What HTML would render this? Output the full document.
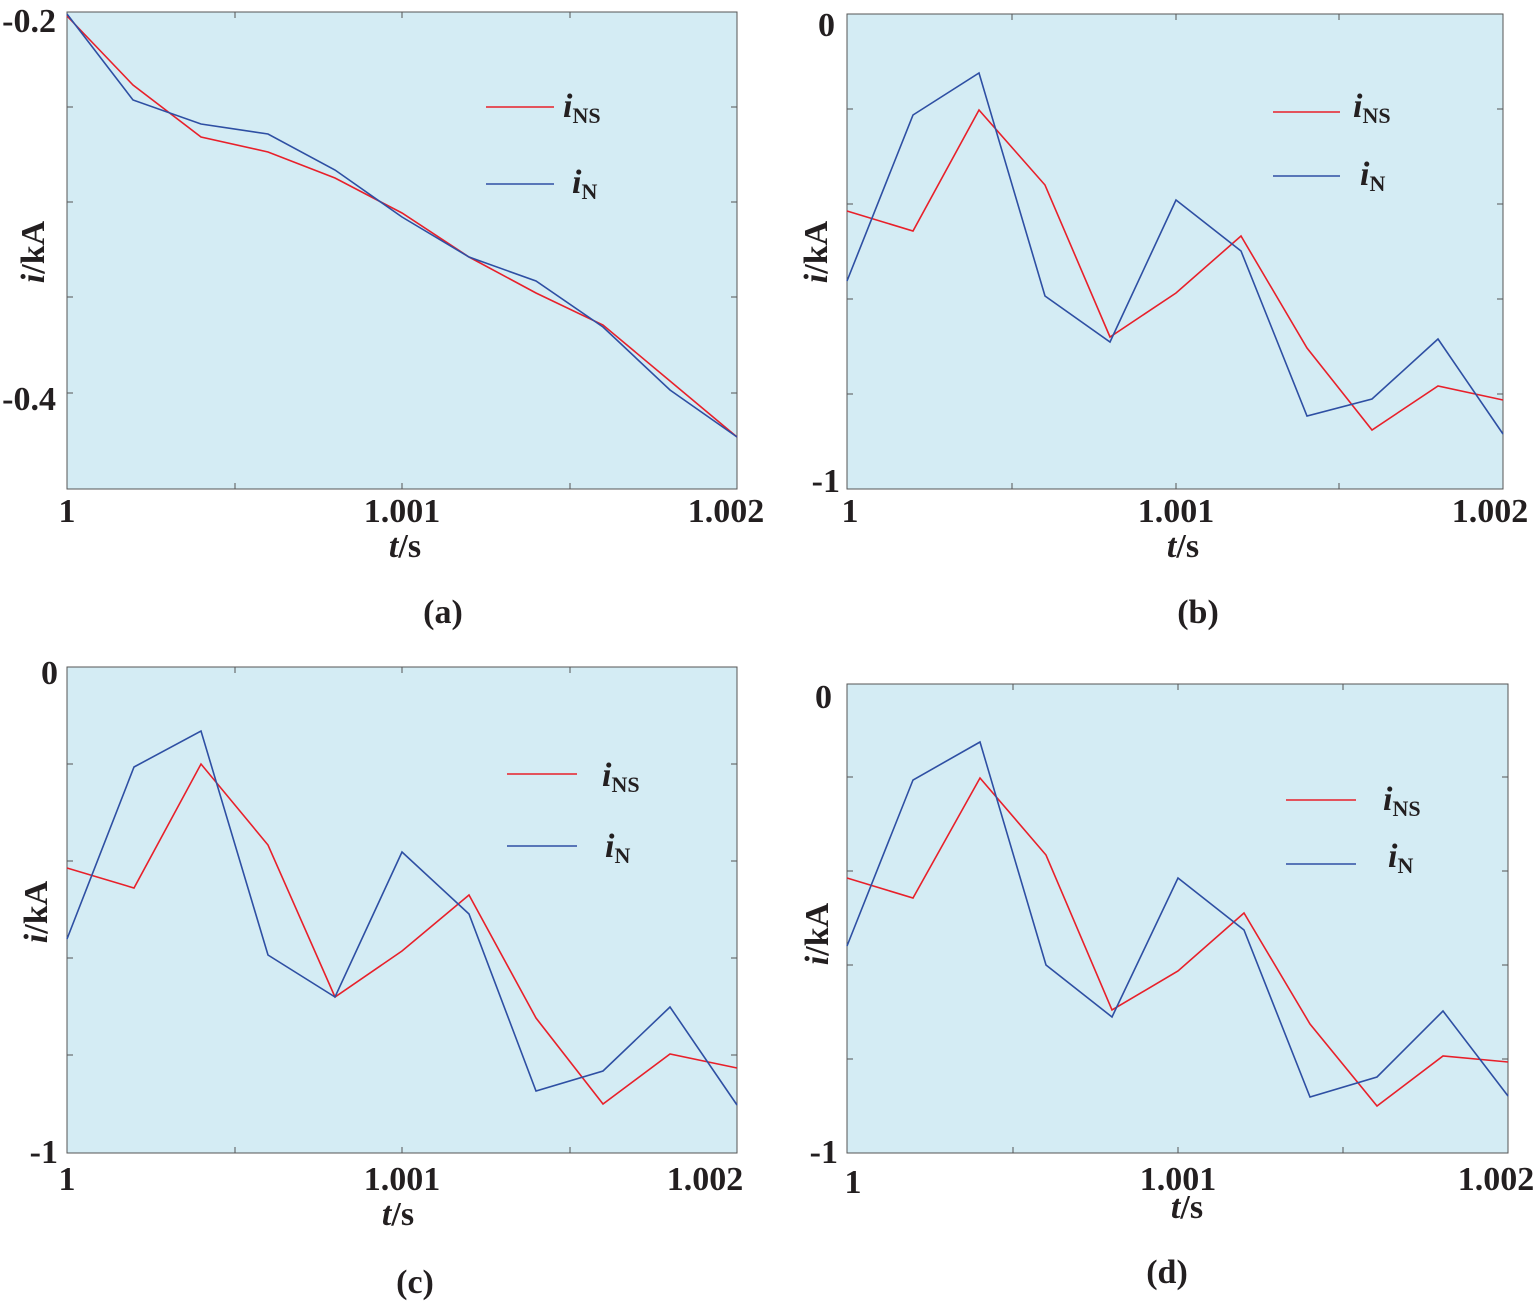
<!DOCTYPE html>
<html><head><meta charset="utf-8"><style>
html,body{margin:0;padding:0;background:#fff}
text{font-family:"Liberation Serif",serif;font-weight:bold;fill:#231f20}
</style></head><body>
<svg width="1536" height="1306" viewBox="0 0 1536 1306" xmlns="http://www.w3.org/2000/svg">
<g stroke-width="1.6" fill="none">
<rect x="67" y="12" width="670" height="477" fill="#d4ecf4" stroke="#555" stroke-width="1"/>
<g stroke="#555" stroke-width="1">
<path d="M67 107h6M67 202h6M67 297h6M67 393h6M737 107h-6M737 202h-6M737 297h-6M737 393h-6M235 489v-6M402 489v-6M570 489v-6M235 12v6M402 12v6M570 12v6"/>
</g>
<polyline stroke="#e8202a" points="67,16 133,85 201,137 268,152 335,178 402,213 469,257 536,293 603,325 670,381 737,437"/>
<polyline stroke="#2e4fa3" points="67,14 133,100 201,124 268,134 335,170 402,217 469,257 536,281 603,327 670,390 737,437"/>
<line x1="486" y1="107" x2="554" y2="107" stroke="#e8202a"/>
<line x1="486" y1="184" x2="554" y2="184" stroke="#2e4fa3"/>
<rect x="847" y="14" width="656" height="475" fill="#d4ecf4" stroke="#555" stroke-width="1"/>
<g stroke="#555" stroke-width="1">
<path d="M847 109h6M847 204h6M847 299h6M847 394h6M1503 109h-6M1503 204h-6M1503 299h-6M1503 394h-6M1012 489v-6M1176 489v-6M1339 489v-6M1012 14v6M1176 14v6M1339 14v6"/>
</g>
<polyline stroke="#e8202a" points="847,211 913,231 979,110 1045,185 1110,337 1176,293 1241,236 1307,348 1372,430 1438,386 1503,400"/>
<polyline stroke="#2e4fa3" points="847,281 913,115 979,73 1045,296 1110,342 1176,200 1241,251 1307,416 1372,399 1438,339 1503,434"/>
<line x1="1273" y1="112" x2="1340" y2="112" stroke="#e8202a"/>
<line x1="1273" y1="176" x2="1340" y2="176" stroke="#2e4fa3"/>
<rect x="67" y="667" width="670" height="486" fill="#d4ecf4" stroke="#555" stroke-width="1"/>
<g stroke="#555" stroke-width="1">
<path d="M67 764h6M67 861h6M67 958h6M67 1055h6M737 764h-6M737 861h-6M737 958h-6M737 1055h-6M235 1153v-6M402 1153v-6M570 1153v-6M235 667v6M402 667v6M570 667v6"/>
</g>
<polyline stroke="#e8202a" points="67,868 134,888 201,764 268,845 335,997 402,951 469,895 536,1018 603,1104 670,1054 737,1068"/>
<polyline stroke="#2e4fa3" points="67,939 134,767 201,731 268,955 335,997 402,852 469,914 536,1091 603,1071 670,1007 737,1105"/>
<line x1="507" y1="774" x2="577" y2="774" stroke="#e8202a"/>
<line x1="507" y1="846" x2="577" y2="846" stroke="#2e4fa3"/>
<rect x="847" y="684" width="661" height="469" fill="#d4ecf4" stroke="#555" stroke-width="1"/>
<g stroke="#555" stroke-width="1">
<path d="M847 777h6M847 871h6M847 965h6M847 1059h6M1508 777h-6M1508 871h-6M1508 965h-6M1508 1059h-6M1013 1153v-6M1178 1153v-6M1343 1153v-6M1013 684v6M1178 684v6M1343 684v6"/>
</g>
<polyline stroke="#e8202a" points="847,878 913,898 980,778 1046,855 1112,1010 1178,971 1244,913 1310,1024 1377,1106 1443,1056 1508,1062"/>
<polyline stroke="#2e4fa3" points="847,946 913,780 980,742 1046,965 1112,1017 1178,878 1244,930 1310,1097 1377,1077 1443,1011 1508,1096"/>
<line x1="1286" y1="800" x2="1356" y2="800" stroke="#e8202a"/>
<line x1="1286" y1="864" x2="1356" y2="864" stroke="#2e4fa3"/>
</g>

<g font-size="34">
<text x="56" y="32" text-anchor="end">-0.2</text>
<text x="56" y="410" text-anchor="end">-0.4</text>
<text x="67" y="522" text-anchor="middle">1</text>
<text x="402" y="522" text-anchor="middle">1.001</text>
<text x="726" y="522" text-anchor="middle">1.002</text>
<text x="405" y="557" text-anchor="middle"><tspan font-style="italic">t</tspan>/s</text>
<text x="443" y="623" text-anchor="middle">(a)</text>
<text transform="translate(44,252) rotate(-90)" text-anchor="middle"><tspan font-style="italic">i</tspan>/kA</text>
<text x="563" y="117" font-style="italic">i<tspan font-size="22" font-style="normal" dy="6">NS</tspan></text>
<text x="572" y="193" font-style="italic">i<tspan font-size="22" font-style="normal" dy="6">N</tspan></text>
<text x="835" y="36" text-anchor="end">0</text>
<text x="840" y="492" text-anchor="end">-1</text>
<text x="850" y="522" text-anchor="middle">1</text>
<text x="1176" y="522" text-anchor="middle">1.001</text>
<text x="1490" y="522" text-anchor="middle">1.002</text>
<text x="1183" y="557" text-anchor="middle"><tspan font-style="italic">t</tspan>/s</text>
<text x="1198" y="623" text-anchor="middle">(b)</text>
<text transform="translate(827,252) rotate(-90)" text-anchor="middle"><tspan font-style="italic">i</tspan>/kA</text>
<text x="1353" y="117" font-style="italic">i<tspan font-size="22" font-style="normal" dy="6">NS</tspan></text>
<text x="1360" y="185" font-style="italic">i<tspan font-size="22" font-style="normal" dy="6">N</tspan></text>
<text x="58" y="684" text-anchor="end">0</text>
<text x="58" y="1163" text-anchor="end">-1</text>
<text x="67" y="1190" text-anchor="middle">1</text>
<text x="402" y="1190" text-anchor="middle">1.001</text>
<text x="705" y="1190" text-anchor="middle">1.002</text>
<text x="398" y="1225" text-anchor="middle"><tspan font-style="italic">t</tspan>/s</text>
<text x="415" y="1293" text-anchor="middle">(c)</text>
<text transform="translate(47,912) rotate(-90)" text-anchor="middle"><tspan font-style="italic">i</tspan>/kA</text>
<text x="602" y="786" font-style="italic">i<tspan font-size="22" font-style="normal" dy="6">NS</tspan></text>
<text x="605" y="857" font-style="italic">i<tspan font-size="22" font-style="normal" dy="6">N</tspan></text>
<text x="832" y="708" text-anchor="end">0</text>
<text x="838" y="1163" text-anchor="end">-1</text>
<text x="853" y="1193" text-anchor="middle">1</text>
<text x="1178" y="1190" text-anchor="middle">1.001</text>
<text x="1496" y="1190" text-anchor="middle">1.002</text>
<text x="1187" y="1218" text-anchor="middle"><tspan font-style="italic">t</tspan>/s</text>
<text x="1167" y="1283" text-anchor="middle">(d)</text>
<text transform="translate(828,934) rotate(-90)" text-anchor="middle"><tspan font-style="italic">i</tspan>/kA</text>
<text x="1383" y="810" font-style="italic">i<tspan font-size="22" font-style="normal" dy="6">NS</tspan></text>
<text x="1388" y="867" font-style="italic">i<tspan font-size="22" font-style="normal" dy="6">N</tspan></text>
</g>
</svg>
</body></html>
